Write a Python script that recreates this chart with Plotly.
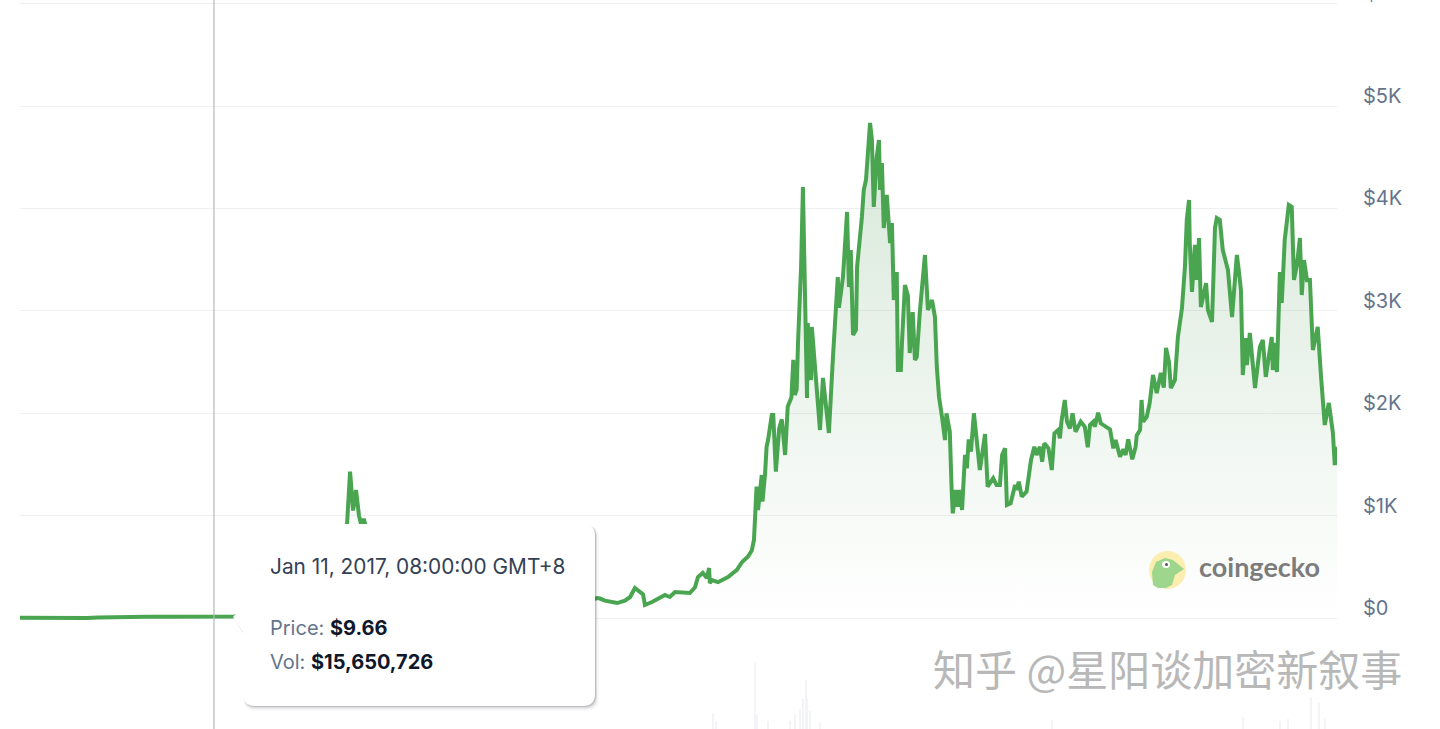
import pandas as pd
import plotly.graph_objects as go

W, H = 1440, 729

launch = pd.Timestamp('2015-08-07')
cross_date = pd.Timestamp('2017-01-11')
last_day = 3551

# days since launch / price in USD
price_days = [
    0, 30, 90, 180, 210, 280, 300, 340, 400, 450, 500, 523, 560, 580, 600, 650, 680, 700, 720, 730,
    760, 790, 820, 850, 865, 875, 882, 890, 892, 898, 906, 914, 922, 927, 935, 960, 990, 1010, 1040, 1100,
    1150, 1200, 1240, 1300, 1360, 1400, 1430, 1480, 1500, 1540, 1556, 1564, 1577, 1610, 1631, 1645, 1658, 1672, 1680, 1685,
    1704, 1739, 1752, 1766, 1806, 1820, 1828, 1841, 1852, 1858, 1860, 1866, 1882, 1909, 1933, 1947, 1963, 1973,
    1979, 1986, 1990, 2000, 2002, 2009, 2013, 2017, 2022, 2027, 2031, 2038, 2047, 2054, 2063, 2070, 2080, 2085, 2089, 2094, 2098,
    2106, 2111, 2116, 2122, 2124, 2133,
    2135, 2141, 2146, 2157, 2165, 2181, 2192, 2203, 2205, 2208, 2219, 2230, 2235, 2240, 2246, 2254, 2257, 2270, 2275, 2281,
    2286, 2292, 2297, 2302, 2310, 2316, 2319, 2324, 2329, 2337, 2346, 2351, 2356, 2364, 2367, 2375, 2378, 2386, 2394, 2399,
    2407, 2413, 2418, 2426, 2440, 2448, 2459, 2467, 2472, 2478, 2486, 2494,
    2498, 2507, 2512, 2515, 2523, 2528, 2534, 2540, 2548, 2553,
    2558, 2564, 2572, 2579, 2588, 2594, 2602, 2609, 2624, 2633,
    2642, 2648, 2656, 2661, 2671, 2683, 2687, 2693, 2701, 2714,
    2726, 2735, 2741, 2750, 2756, 2762, 2773, 2782, 2789, 2799,
    2804, 2808, 2817, 2823, 2831, 2838, 2846, 2860, 2871, 2879,
    2885, 2894, 2898, 2907, 2914, 2939, 2948, 2954, 2966, 2975,
    2981, 2988, 2999, 3008, 3011, 3020, 3024, 3028,
    3038, 3046, 3055, 3065, 3076, 3084, 3090, 3098,
    3103, 3114, 3122, 3133, 3141, 3146, 3152, 3154, 3160, 3168, 3173, 3179, 3184, 3198, 3203, 3214, 3222, 3227, 3235, 3243,
    3257, 3268, 3281, 3286, 3292, 3297, 3305, 3308, 3316, 3330, 3343, 3351, 3359, 3375, 3378, 3384, 3389, 3397, 3402, 3410,
    3421, 3429, 3435, 3443, 3451, 3456, 3462, 3470, 3478, 3486, 3499, 3508, 3518, 3529, 3540, 3545, 3548, 3551,
]
prices = [
    2.8, 1, 1, 1, 6, 11, 18, 12, 12, 11, 8, 9.66, 11, 15, 45, 85, 330, 400, 250, 220,
    300, 310, 290, 450, 720, 850, 930, 1430, 1300, 1050, 1250, 1000, 880, 970, 850, 830, 700, 400, 520, 450,
    220, 130, 110, 130, 250, 280, 290, 180, 190, 175, 195, 190, 170, 146, 170, 205, 293, 260, 230, 127,
    156, 225, 205, 254, 244, 300, 400, 440, 390, 488, 340, 370, 350, 400, 470, 547, 600, 660,
    762, 1283, 1055, 1397, 1136, 1413, 1673, 1738, 1852, 1982, 1982, 1429, 1852, 1940, 1592, 2064, 2155, 2520, 2178, 2227, 2715,
    3428, 4209, 3428, 2148, 2880, 2324,
    2842, 2549, 2354, 1836, 2344, 1807, 2549, 3174, 3330, 3030, 3330, 3965, 3232, 3594, 2764, 2812, 3428, 3916, 4180, 4277,
    4600, 4834, 4668, 4014, 4502, 4668, 4180, 4443, 3809, 4131, 3662, 3857, 3105, 3379, 2422, 2422, 2686, 3252, 3150, 2588,
    2988, 2520, 2549, 2979, 3545, 3008, 3105, 2939, 2451, 2158, 1963, 1738,
    1999, 1819, 1250, 1022, 1250, 1087, 1250, 1055, 1592, 1462,
    1745, 1624, 1999, 1738, 1445, 1592, 1797, 1282, 1364, 1299,
    1299, 1592, 1657, 1104, 1120, 1299, 1250, 1331, 1185, 1234,
    1543, 1673, 1592, 1673, 1527, 1706, 1657, 1445, 1803, 1836,
    1755, 1917, 2129, 1917, 1852, 1999, 1819, 1917, 1868, 1667,
    1885, 1917, 1868, 2005, 1901, 1842, 1657, 1738, 1575, 1647,
    1592, 1745, 1550, 1670, 1784, 1836, 2129, 1917,
    1963, 2100, 2373, 2197, 2393, 2250, 2637, 2500,
    2246, 2324, 2744, 3027, 3428, 3887, 4082, 3662, 3184, 3643, 3301, 3711, 3037, 3271, 3008, 2891, 3809, 3906, 3887, 3594,
    3398, 2939, 3545, 3400, 3203, 2373, 2734, 2471, 2783, 2246, 2646, 2715, 2354, 2744, 2422, 2686, 2402, 3379, 3076, 3691,
    4033, 4014, 3301, 3450, 3711, 3154, 3496, 3300, 3301, 2617, 2842, 2354, 1885, 2100, 1807, 1494, 1670, 1500,
]

# volume in USD billions, only the tall bars show
vol_days = [1868, 1876, 1982, 1987, 2017, 2076, 2089, 2103, 2111, 2119, 2122, 2130, 2157, 2782, 3297, 3397, 3418, 3481, 3503, 3518]
vol_values = [16, 8, 66, 14, 8, 8, 14, 20, 30, 49, 30, 18, 6, 9, 12, 8, 10, 32, 26, 10]

tick_vals = [0, 1000, 2000, 3000, 4000, 5000, 6000]
tick_text = ['$0', '$1K', '$2K', '$3K', '$4K', '$5K', '']
top_label = '$6K'

tip_date = 'Jan 11, 2017, 08:00:00 GMT+8'
tip_price = '$9.66'
tip_vol = '$15,650,726'
watermark = '知乎 @星阳谈加密新叙事'


def px(x):
    return x / W


def py(y):
    return 1 - y / H


def to_dates(days):
    return [launch + pd.Timedelta(days=d) for d in days]


def tooltip_path(dx=0, dy=0, grow=0):
    l, r, t, b = 243 + dx - grow, 595 + dx + grow, 524 + dy - grow, 706 + dy + grow
    c = 12
    pts = [
        f'M {px(l + c)},{py(t)}', f'L {px(r - c)},{py(t)}',
        f'Q {px(r)},{py(t)} {px(r)},{py(t + c)}', f'L {px(r)},{py(b - c)}',
        f'Q {px(r)},{py(b)} {px(r - c)},{py(b)}', f'L {px(l + c)},{py(b)}',
        f'Q {px(l)},{py(b)} {px(l)},{py(b - c)}', f'L {px(l)},{py(632 + dy)}',
        f'L {px(233 + dx)},{py(617 + dy)}', f'L {px(l)},{py(606 + dy)}',
        f'L {px(l)},{py(t + c)}', f'Q {px(l)},{py(t)} {px(l + c)},{py(t)}', 'Z',
    ]
    return ' '.join(pts)


fig = go.Figure()

fig.add_trace(go.Bar(
    x=to_dates(vol_days), y=vol_values, yaxis='y2',
    width=3 * 86400000, marker=dict(color='#f3f4f7', line=dict(width=0)),
    showlegend=False, hoverinfo='skip',
))

fig.add_trace(go.Scatter(
    x=to_dates(price_days), y=prices, mode='lines',
    line=dict(color='#4aa551', width=4, shape='linear'),
    fill='tozeroy',
    fillgradient=dict(
        type='vertical', start=0, stop=4800,
        colorscale=[[0, 'rgba(74,150,80,0)'], [1, 'rgba(74,150,80,0.22)']],
    ),
    showlegend=False, hoverinfo='skip',
))

fig.update_layout(
    width=W, height=H, autosize=False,
    margin=dict(l=0, r=0, t=0, b=0, pad=0),
    paper_bgcolor='white', plot_bgcolor='white',
    font=dict(family='Inter', size=20, color='#64748b'),
    xaxis=dict(
        domain=[px(20), px(1337)], showgrid=False, showticklabels=False,
        zeroline=False, showline=False, ticks='', automargin=False,
        range=[launch, launch + pd.Timedelta(days=last_day)],
    ),
    # range runs a little past 0 and 6000 so those two gridlines get drawn
    yaxis=dict(
        domain=[py(623.12), py(0.53)], range=[-50, 6030], side='right', automargin=False,
        tickvals=tick_vals, ticktext=tick_text,
        gridcolor='#eef0f2', gridwidth=1.2, zeroline=False, showline=False,
        ticks='', ticklabelstandoff=25, ticklabelshift=-10,
        tickfont=dict(family='Inter', size=20, color='#64748b'),
    ),
    yaxis2=dict(
        domain=[0, py(660)], range=[0, 69], anchor='x', automargin=False,
        visible=False, fixedrange=True,
    ),
    bargap=0,
)

# top tick label sits mostly above the page edge
fig.add_annotation(
    x=px(1363), y=py(-7), xref='paper', yref='paper', xanchor='left', yanchor='middle', showarrow=False,
    text=top_label, font=dict(family='Inter', size=20, color='#64748b'),
)

# crosshair
fig.add_shape(
    type='line', xref='x', yref='paper', x0=cross_date, x1=cross_date, y0=0, y1=1,
    line=dict(color='#b4b7bb', width=1.2), layer='above',
)

# tooltip shadow + card
for dx, dy, grow, alpha in [(2, 3, 1.5, 0.05), (1.5, 2, 0.5, 0.12), (1, 1, 0, 0.2)]:
    fig.add_shape(type='path', xref='paper', yref='paper', path=tooltip_path(dx, dy, grow),
                  fillcolor=f'rgba(60,60,70,{alpha})', line=dict(width=0), layer='above')
fig.add_shape(type='path', xref='paper', yref='paper', path=tooltip_path(),
              fillcolor='white', line=dict(width=0), layer='above')

fig.add_annotation(
    x=px(268), y=py(566), xref='paper', yref='paper', xanchor='left', yanchor='middle', showarrow=False,
    text=tip_date, font=dict(family='Inter', size=20.85, color='#334155'),
)
fig.add_annotation(
    x=px(268), y=py(628), xref='paper', yref='paper', xanchor='left', yanchor='middle', showarrow=False,
    text=f'Price: <b style="color:#0f172a">{tip_price}</b>', font=dict(family='Inter', size=20, color='#64748b'),
)
fig.add_annotation(
    x=px(268), y=py(662), xref='paper', yref='paper', xanchor='left', yanchor='middle', showarrow=False,
    text=f'Vol: <b style="color:#0f172a">{tip_vol}</b>', font=dict(family='Inter', size=20, color='#64748b'),
)

# coingecko logo
fig.add_shape(type='circle', xref='paper', yref='paper', x0=px(1149), x1=px(1186), y0=py(551), y1=py(589),
              fillcolor='#fcedb0', line=dict(width=0), layer='above')
blob = [(1153, 585), (1152, 572), (1156, 562), (1165, 558), (1173, 560), (1184, 569),
        (1175, 575), (1172, 585), (1166, 588), (1158, 588)]
fig.add_shape(type='path', xref='paper', yref='paper',
              path='M ' + ' L '.join(f'{px(a)},{py(b)}' for a, b in blob) + ' Z',
              fillcolor='#9dd68c', line=dict(width=0), layer='above')
fig.add_shape(type='circle', xref='paper', yref='paper', x0=px(1162), x1=px(1170), y0=py(561), y1=py(568),
              fillcolor='white', line=dict(width=0), layer='above')
fig.add_shape(type='circle', xref='paper', yref='paper', x0=px(1165), x1=px(1168), y0=py(563), y1=py(566),
              fillcolor='#555555', line=dict(width=0), layer='above')
fig.add_annotation(
    x=px(1197), y=py(566), xref='paper', yref='paper', xanchor='left', yanchor='middle', showarrow=False,
    text='<b>coingecko</b>', font=dict(family='Lato', size=27, color='#7c7c7c'),
)

# watermark
fig.add_annotation(
    x=px(931), y=py(667), xref='paper', yref='paper', xanchor='left', yanchor='middle', showarrow=False,
    text=watermark, font=dict(family='Noto Sans CJK SC', size=42, color='#b8b8b8'),
)

# browser default body margin would shift the whole chart
fig.write_html('out.html', config=dict(displayModeBar=False), post_script="document.body.style.margin='0';")
